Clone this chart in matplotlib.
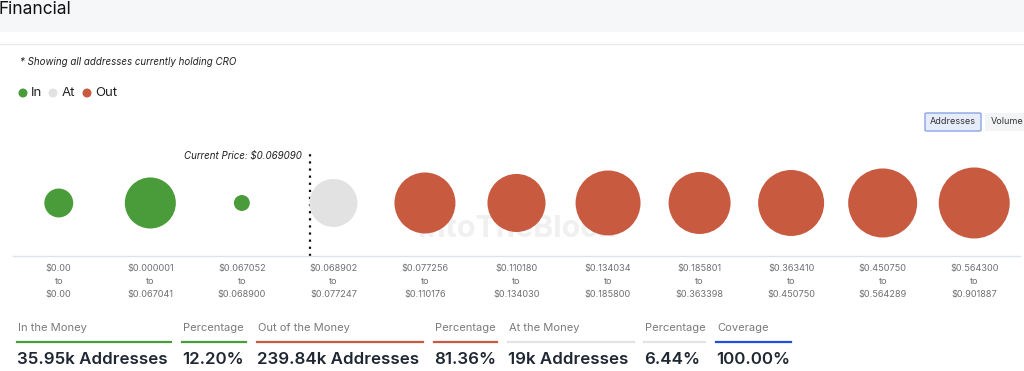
import matplotlib
matplotlib.use("Agg")
import matplotlib.pyplot as plt
from matplotlib.patches import Rectangle, FancyBboxPatch
import numpy as np

plt.rcParams['font.family'] = ['Inter', 'DejaVu Sans']

# ---------------- data ----------------
range_low = ["$0.00", "$0.000001", "$0.067052", "$0.068902", "$0.077256", "$0.110180",
             "$0.134034", "$0.185801", "$0.363410", "$0.450750", "$0.564300"]
range_high = ["$0.00", "$0.067041", "$0.068900", "$0.077247", "$0.110176", "$0.134030",
              "$0.185800", "$0.363398", "$0.450750", "$0.564289", "$0.901887"]
addresses = [6900, 21500, 2100, 19000, 30700, 27800, 34800, 31700, 35900, 39300, 41600]
status = ["In", "In", "In", "At", "Out", "Out", "Out", "Out", "Out", "Out", "Out"]
current_price_label = "Current Price: $0.069090"
current_price_pos = 2.74

summary_titles = ["In the Money", "Percentage", "Out of the Money", "Percentage",
                  "At the Money", "Percentage", "Coverage"]
summary_values = ["35.95k Addresses", "12.20%", "239.84k Addresses", "81.36%",
                  "19k Addresses", "6.44%", "100.00%"]

colors = {"In": "#4a9c3a", "At": "#e2e2e2", "Out": "#c85a40"}
summary_colors = ["#4a9c3a", "#4a9c3a", "#c85a40", "#c85a40", "#e3e3e3", "#e3e3e3", "#1f4fe0"]

W, H = 1024, 371
DPI = 100
fig = plt.figure(figsize=(W / DPI, H / DPI), dpi=DPI)
fig.patch.set_facecolor("white")


def fx(px):
    return px / W


def fy(py):
    return 1 - py / H


# header band
fig.patches.append(Rectangle((0, fy(32)), 1, 32 / H, transform=fig.transFigure,
                             facecolor="#f6f7f9", edgecolor="none", zorder=0))
fig.lines.append(plt.Line2D([0, 1], [fy(44), fy(44)], transform=fig.transFigure,
                            color="#e9ebee", lw=1))
fig.text(fx(-1), fy(10), "Financial", fontsize=12.5, color="#111111", va="center", ha="left")

fig.text(fx(20), fy(62), "* Showing all addresses currently holding CRO", fontsize=7,
         style="italic", color="#222222", va="center", ha="left")

# legend
leg_x = [(23, 31, "In"), (53, 62, "At"), (87, 95, "Out")]
for dx, tx, key in leg_x:
    fig.patches.append(matplotlib.patches.Ellipse((fx(dx), fy(93)), 9 / W, 9 / H,
                                                  transform=fig.transFigure,
                                                  facecolor=colors[key], edgecolor="none"))
    fig.text(fx(tx), fy(93), key, fontsize=9.5, color="#222222", va="center", ha="left")

# buttons
fig.patches.append(FancyBboxPatch((fx(925), fy(131)), 56 / W, 18 / H, transform=fig.transFigure,
                                  boxstyle="round,pad=0,rounding_size=0.002",
                                  facecolor="#e6ecf9", edgecolor="#8aa4e6", lw=1))
fig.text(fx(953), fy(122), "Addresses", fontsize=6.5, color="#333333", ha="center", va="center")
fig.patches.append(Rectangle((fx(985), fy(131)), 45 / W, 18 / H, transform=fig.transFigure,
                             facecolor="#f3f4f6", edgecolor="none"))
fig.text(fx(991), fy(122), "Volume", fontsize=6.5, color="#333333", ha="left", va="center")

# ---------------- bubble axes ----------------
ax = fig.add_axes([fx(13), fy(256), 1007 / W, 104 / H])
x = np.arange(len(addresses))
k = 33.0  # addresses per px^2 (area scaling)
r_px = np.sqrt(np.array(addresses) / k)
s = (2 * r_px * 72 / DPI) ** 2
ax.scatter(x, np.zeros_like(x), s=s, c=[colors[st] for st in status], edgecolors="none",
           zorder=3)
ax.set_xlim(-0.5, len(addresses) - 0.5)
ax.set_ylim(-1.04, 1.0)

ax.text(0.5, 0.26, "IntoTheBlock", transform=ax.transAxes, fontsize=22, fontweight="bold",
        color="#f0f0f0", ha="center", va="center", zorder=1)

ax.axvline(current_price_pos, color="#111111", lw=1.6, ls=(0, (1, 2.2)), zorder=2)
ax.text(current_price_pos - 0.08, 0.96, current_price_label, fontsize=7, style="italic",
        color="#222222", ha="right", va="center", transform=ax.get_xaxis_transform())

for sp in ["top", "left", "right"]:
    ax.spines[sp].set_visible(False)
ax.spines["bottom"].set_color("#dde3ea")
ax.spines["bottom"].set_linewidth(1)
ax.set_yticks([])
ax.set_xticks(x)
ax.set_xticklabels([f"{a}\nto\n{b}" for a, b in zip(range_low, range_high)],
                   fontsize=6.6, color="#707070", linespacing=1.55)
ax.tick_params(axis="x", length=0, pad=6)

# ---------------- summary ----------------
title_x = [18, 183, 258, 435, 509, 645, 717]
line_end = [171, 246, 423, 497, 634, 705, 791]
for tx, le, t, v, c in zip(title_x, line_end, summary_titles, summary_values, summary_colors):
    fig.text(fx(tx), fy(328), t, fontsize=8, color="#7a7a7a", ha="left", va="center")
    fig.lines.append(plt.Line2D([fx(tx - 1), fx(le)], [fy(342), fy(342)],
                                transform=fig.transFigure, color=c, lw=1.6))
    fig.text(fx(tx - 1), fy(360), v, fontsize=12.2, fontweight="semibold", color="#1f2733",
             ha="left", va="center")

fig.savefig("out.png", dpi=DPI)
